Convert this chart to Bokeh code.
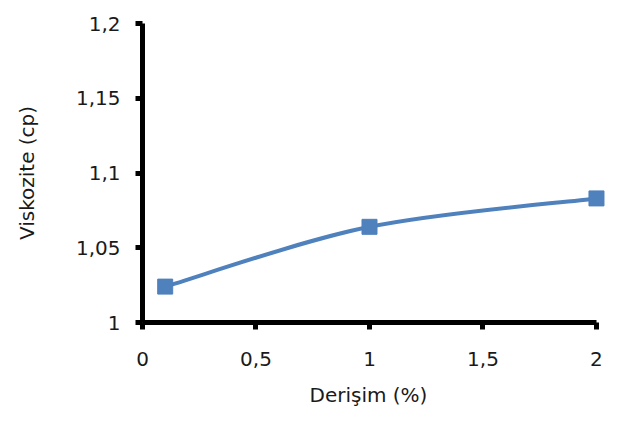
import numpy as np
from bokeh.plotting import figure
from bokeh.models import FixedTicker, Range1d, Title
from bokeh.embed import file_html
from bokeh.resources import INLINE

# ---- data ----
concentration = [0.1, 1.0, 2.0]          # Derişim (%)
viscosity = [1.024, 1.064, 1.083]        # Viskozite (cp)

x_ticks = [0, 0.5, 1, 1.5, 2]
x_tick_labels = ["0", "0,5", "1", "1,5", "2"]
y_ticks = [1, 1.05, 1.1, 1.15, 1.2]
y_tick_labels = ["1", "1,05", "1,1", "1,15", "1,2"]

x_title = "Derişim (%)"
y_title = "Viskozite (cp)"

BLUE = "#4f81bd"
FONT = "DejaVu Sans"
TXT = "#1a1a1a"

p = figure(width=620, height=418, output_backend="svg", toolbar_location=None,
           x_range=Range1d(0, 2.097), y_range=Range1d(1, 1.2),
           min_border_left=142, min_border_right=2,
           min_border_top=23, min_border_bottom=96)
p.outline_line_color = None
p.xgrid.visible = False
p.ygrid.visible = False
p.background_fill_color = "white"
p.border_fill_color = "white"

# smoothed line (Excel-style bezier through the points)
xs = np.array(concentration)
ys = np.array(viscosity)
n = len(xs)
x0, y0, x1, y1, cx0, cy0, cx1, cy1 = [], [], [], [], [], [], [], []
for i in range(n - 1):
    pm = (xs[max(i - 1, 0)], ys[max(i - 1, 0)])
    pa = (xs[i], ys[i])
    pb = (xs[i + 1], ys[i + 1])
    pn = (xs[min(i + 2, n - 1)], ys[min(i + 2, n - 1)])
    x0.append(pa[0]); y0.append(pa[1]); x1.append(pb[0]); y1.append(pb[1])
    cx0.append(pa[0] + (pb[0] - pm[0]) / 6); cy0.append(pa[1] + (pb[1] - pm[1]) / 6)
    cx1.append(pb[0] - (pn[0] - pa[0]) / 6); cy1.append(pb[1] - (pn[1] - pa[1]) / 6)
p.bezier(x0=x0, y0=y0, x1=x1, y1=y1, cx0=cx0, cy0=cy0, cx1=cx1, cy1=cy1,
         line_color=BLUE, line_width=4)
p.scatter(concentration, viscosity, marker="square", size=15,
          fill_color=BLUE, line_color=BLUE)

for ax, ticks, labels in ((p.xaxis[0], x_ticks, x_tick_labels),
                          (p.yaxis[0], y_ticks, y_tick_labels)):
    ax.ticker = FixedTicker(ticks=ticks)
    ax.major_label_overrides = {t: l for t, l in zip(ticks, labels)}
    ax.bounds = (ticks[0], ticks[-1])
    ax.minor_tick_line_color = None
    ax.axis_line_width = 5
    ax.axis_line_color = "black"
    ax.major_tick_line_width = 5
    ax.major_tick_line_color = "black"
    ax.major_tick_in = 0
    ax.major_tick_out = 7
    ax.major_label_text_font = FONT
    ax.major_label_text_font_size = "20px"
    ax.major_label_text_color = TXT

p.xaxis.major_label_standoff = 22
p.yaxis.major_label_standoff = 15

p.yaxis.axis_label = y_title
p.yaxis.axis_label_text_font = FONT
p.yaxis.axis_label_text_font_size = "20px"
p.yaxis.axis_label_text_font_style = "normal"
p.yaxis.axis_label_text_color = TXT
p.yaxis.axis_label_standoff = 34

# x title, shifted so it is centred under the 0..2 axis span
p.add_layout(Title(text=x_title, align="left", offset=167, standoff=24,
                   text_font=FONT, text_font_size="20px",
                   text_font_style="normal", text_color=TXT), "below")

open("out.html", "w").write(file_html(p, INLINE))
